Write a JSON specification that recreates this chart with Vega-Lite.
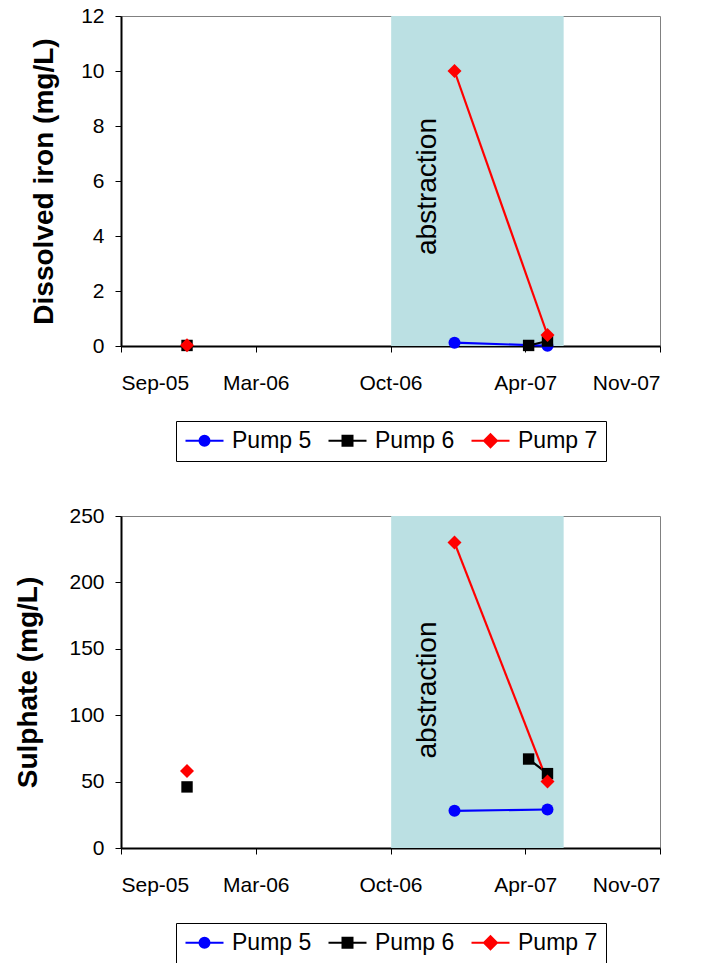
{
  "$schema": "https://vega.github.io/schema/vega-lite/v6.json",
  "background": "white",
  "padding": {"left": 14, "top": 4, "right": 4, "bottom": 1},
  "spacing": 42,
  "datasets": {
    "iron": [
      {"pump": "Pump 6", "date": "2005-12-12", "value": 0.02, "seg": "a"},
      {"pump": "Pump 7", "date": "2005-12-12", "value": 0.03, "seg": "a"},
      {"pump": "Pump 5", "date": "2007-01-13", "value": 0.12, "seg": "b"},
      {"pump": "Pump 5", "date": "2007-05-31", "value": 0.01, "seg": "b"},
      {"pump": "Pump 6", "date": "2007-05-03", "value": 0.02, "seg": "b"},
      {"pump": "Pump 6", "date": "2007-05-31", "value": 0.18, "seg": "b"},
      {"pump": "Pump 7", "date": "2007-01-13", "value": 10.0, "seg": "b"},
      {"pump": "Pump 7", "date": "2007-05-31", "value": 0.4, "seg": "b"}
    ],
    "sulphate": [
      {"pump": "Pump 6", "date": "2005-12-12", "value": 46, "seg": "a"},
      {"pump": "Pump 7", "date": "2005-12-12", "value": 58, "seg": "a"},
      {"pump": "Pump 5", "date": "2007-01-13", "value": 28, "seg": "b"},
      {"pump": "Pump 5", "date": "2007-05-31", "value": 29, "seg": "b"},
      {"pump": "Pump 6", "date": "2007-05-03", "value": 67, "seg": "b"},
      {"pump": "Pump 6", "date": "2007-05-31", "value": 56, "seg": "b"},
      {"pump": "Pump 7", "date": "2007-01-13", "value": 230, "seg": "b"},
      {"pump": "Pump 7", "date": "2007-05-31", "value": 50, "seg": "b"}
    ],
    "period": [{"start": "2006-10-11", "end": "2007-06-24"}]
  },
  "vconcat": [
    {
      "width": 539,
      "height": 330,
      "encoding": {
        "x": {"field": "date", "type": "temporal",
          "scale": {"type": "utc", "domain": [{"year": 2005, "month": 9, "date": 5, "utc": true}, {"year": 2007, "month": 11, "date": 14, "utc": true}]},
          "axis": {"title": null, "labelExpr": "utcFormat(datum.value, '%b-%y')",
            "values": [{"year": 2005, "month": 9, "date": 5, "utc": true}, {"year": 2006, "month": 3, "date": 24, "utc": true}, {"year": 2006, "month": 10, "date": 10, "utc": true}, {"year": 2007, "month": 4, "date": 28, "utc": true}, {"year": 2007, "month": 11, "date": 14, "utc": true}]}},
        "y": {"field": "value", "type": "quantitative",
          "scale": {"domain": [0, 12], "nice": false},
          "axis": {"title": "Dissolved iron (mg/L)", "values": [0, 2, 4, 6, 8, 10, 12], "titlePadding": 22}}
      },
      "layer": [
        {
          "data": {"name": "period"},
          "mark": {"type": "rect", "color": "#BBE0E3"},
          "encoding": {
            "x": {"field": "start", "type": "temporal"},
            "x2": {"field": "end"},
            "y": null
          }
        },
        {
          "data": {"values": [{"date": "2006-12-04", "value": 5.8, "label": "abstraction"}]},
          "mark": {"type": "text", "angle": 270, "fontSize": 28, "font": "Liberation Sans", "color": "black", "align": "center", "baseline": "middle"},
          "encoding": {"text": {"field": "label"}}
        },
        {
          "data": {"name": "iron"},
          "mark": {"type": "line", "strokeWidth": 2.2},
          "encoding": {
            "color": {"field": "pump", "type": "nominal",
              "scale": {"domain": ["Pump 5", "Pump 6", "Pump 7"], "range": ["#0000FF", "#000000", "#FF0000"]},
              "legend": {"title": null, "orient": "bottom", "direction": "horizontal", "offset": 28,
                "encode": {"symbols": {"update": {
                  "shape": {"signal": "datum.value === 'Pump 5' ? 'M-1,0H2.8M0.4,0A0.5,0.5,0,1,0,1.4,0A0.5,0.5,0,1,0,0.4,0Z' : datum.value === 'Pump 6' ? 'M-1,0H2.8M0.4,-0.5H1.4V0.5H0.4Z' : 'M-1,0H2.8M0.9,-0.65L1.55,0L0.9,0.65L0.25,0Z'"},
                  "fill": {"signal": "datum.value === 'Pump 5' ? '#0000FF' : datum.value === 'Pump 6' ? '#000000' : '#FF0000'"},
                  "stroke": {"signal": "datum.value === 'Pump 5' ? '#0000FF' : datum.value === 'Pump 6' ? '#000000' : '#FF0000'"},
                  "strokeWidth": {"value": 2},
                  "size": {"value": 400},
                  "opacity": {"value": 1}
                }}}}},
            "detail": {"field": "seg"}
          }
        },
        {
          "data": {"name": "iron"},
          "transform": [{"filter": "datum.pump === 'Pump 5'"}],
          "mark": {"type": "point", "filled": true, "opacity": 1, "shape": "circle", "size": 144, "color": "#0000FF"}
        },
        {
          "data": {"name": "iron"},
          "transform": [{"filter": "datum.pump === 'Pump 6'"}],
          "mark": {"type": "point", "filled": true, "opacity": 1, "shape": "square", "size": 130, "color": "#000000"}
        },
        {
          "data": {"name": "iron"},
          "transform": [{"filter": "datum.pump === 'Pump 7'"}],
          "mark": {"type": "point", "filled": true, "opacity": 1, "shape": "diamond", "size": 196, "color": "#FF0000"}
        }
      ]
    },
    {
      "width": 539,
      "height": 332,
      "encoding": {
        "x": {"field": "date", "type": "temporal",
          "scale": {"type": "utc", "domain": [{"year": 2005, "month": 9, "date": 5, "utc": true}, {"year": 2007, "month": 11, "date": 14, "utc": true}]},
          "axis": {"title": null, "labelExpr": "utcFormat(datum.value, '%b-%y')",
            "values": [{"year": 2005, "month": 9, "date": 5, "utc": true}, {"year": 2006, "month": 3, "date": 24, "utc": true}, {"year": 2006, "month": 10, "date": 10, "utc": true}, {"year": 2007, "month": 4, "date": 28, "utc": true}, {"year": 2007, "month": 11, "date": 14, "utc": true}]}},
        "y": {"field": "value", "type": "quantitative",
          "scale": {"domain": [0, 250], "nice": false},
          "axis": {"title": "Sulphate (mg/L)", "values": [0, 50, 100, 150, 200, 250], "titlePadding": 26}}
      },
      "layer": [
        {
          "data": {"name": "period"},
          "mark": {"type": "rect", "color": "#BBE0E3"},
          "encoding": {
            "x": {"field": "start", "type": "temporal"},
            "x2": {"field": "end"},
            "y": null
          }
        },
        {
          "data": {"values": [{"date": "2006-12-04", "value": 119, "label": "abstraction"}]},
          "mark": {"type": "text", "angle": 270, "fontSize": 28, "font": "Liberation Sans", "color": "black", "align": "center", "baseline": "middle"},
          "encoding": {"text": {"field": "label"}}
        },
        {
          "data": {"name": "sulphate"},
          "mark": {"type": "line", "strokeWidth": 2.2},
          "encoding": {
            "color": {"field": "pump", "type": "nominal",
              "scale": {"domain": ["Pump 5", "Pump 6", "Pump 7"], "range": ["#0000FF", "#000000", "#FF0000"]},
              "legend": {"title": null, "orient": "bottom", "direction": "horizontal", "offset": 28,
                "encode": {"symbols": {"update": {
                  "shape": {"signal": "datum.value === 'Pump 5' ? 'M-1,0H2.8M0.4,0A0.5,0.5,0,1,0,1.4,0A0.5,0.5,0,1,0,0.4,0Z' : datum.value === 'Pump 6' ? 'M-1,0H2.8M0.4,-0.5H1.4V0.5H0.4Z' : 'M-1,0H2.8M0.9,-0.65L1.55,0L0.9,0.65L0.25,0Z'"},
                  "fill": {"signal": "datum.value === 'Pump 5' ? '#0000FF' : datum.value === 'Pump 6' ? '#000000' : '#FF0000'"},
                  "stroke": {"signal": "datum.value === 'Pump 5' ? '#0000FF' : datum.value === 'Pump 6' ? '#000000' : '#FF0000'"},
                  "strokeWidth": {"value": 2},
                  "size": {"value": 400},
                  "opacity": {"value": 1}
                }}}}},
            "detail": {"field": "seg"}
          }
        },
        {
          "data": {"name": "sulphate"},
          "transform": [{"filter": "datum.pump === 'Pump 5'"}],
          "mark": {"type": "point", "filled": true, "opacity": 1, "shape": "circle", "size": 144, "color": "#0000FF"}
        },
        {
          "data": {"name": "sulphate"},
          "transform": [{"filter": "datum.pump === 'Pump 6'"}],
          "mark": {"type": "point", "filled": true, "opacity": 1, "shape": "square", "size": 130, "color": "#000000"}
        },
        {
          "data": {"name": "sulphate"},
          "transform": [{"filter": "datum.pump === 'Pump 7'"}],
          "mark": {"type": "point", "filled": true, "opacity": 1, "shape": "diamond", "size": 196, "color": "#FF0000"}
        }
      ]
    }
  ],
  "resolve": {
    "scale": {"y": "independent", "color": "independent"},
    "legend": {"color": "independent"}
  },
  "config": {
    "font": "Liberation Sans",
    "view": {"stroke": "#808080", "strokeWidth": 1},
    "axis": {
      "domainColor": "black", "domainWidth": 2, "tickColor": "black", "tickWidth": 1, "tickSize": 6,
      "labelFontSize": 21, "labelColor": "black", "labelFont": "Liberation Sans", "grid": false,
      "titleFontSize": 28, "titleFontWeight": "bold", "titleColor": "black", "titleFont": "Liberation Sans"
    },
    "axisY": {"labelPadding": 11},
    "axisX": {"labelPadding": 20},
    "legend": {
      "strokeColor": "black", "strokeWidth": 1, "fillColor": "white", "padding": 8,
      "labelFontSize": 23, "labelFont": "Liberation Sans", "labelColor": "black",
      "columnPadding": 12, "labelOffset": 25, "symbolSize": 400,
      "layout": {"bottom": {"anchor": "middle"}}
    }
  }
}
